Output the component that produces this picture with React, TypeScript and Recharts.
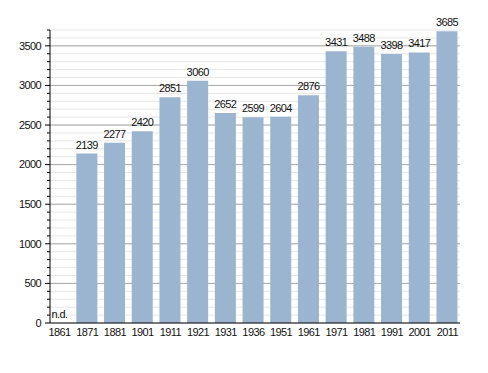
import React from "react";
import {
  BarChart,
  Bar,
  XAxis,
  YAxis,
  CartesianGrid,
  LabelList,
  ReferenceDot,
} from "recharts";

// census years and resident counts (1861 has no data)
const YEARS = ["1861", "1871", "1881", "1901", "1911", "1921", "1931", "1936", "1951", "1961", "1971", "1981", "1991", "2001", "2011"];
const POPULATION: (number | null)[] = [null, 2139, 2277, 2420, 2851, 3060, 2652, 2599, 2604, 2876, 3431, 3488, 3398, 3417, 3685];
const NO_DATA = "n.d.";

const Y_MAX = 3700;
const MINOR_TICKS = Array.from({ length: Y_MAX / 100 + 1 }, (_, i) => i * 100);
const MAJOR_LINES = [500, 1000, 1500, 2000, 2500, 3000, 3500];

const data = YEARS.map((year, i) => ({ idx: i, year, value: POPULATION[i] }));
const missing = data.filter((d) => d.value == null);

const FONT = "'Liberation Sans', Arial, sans-serif";
const TEXT = { fontSize: 11, fontFamily: FONT, fill: "#111", letterSpacing: -0.6 };

const YTick = (props: any) => {
  const { x, y, payload } = props;
  const v = payload.value;
  const major = v % 500 === 0;
  return (
    <g>
      <line x1={x - (major ? 5 : 3)} x2={x} y1={y} y2={y} stroke="#000" strokeWidth={1} />
      {major && v <= 3500 && (
        <text x={x - 9} y={y} dy="0.35em" textAnchor="end" {...TEXT}>
          {v}
        </text>
      )}
    </g>
  );
};

const ValueLabel = (props: any) => {
  const { x, y, width, value } = props;
  if (value == null) return null;
  return (
    <text x={x + width / 2} y={y - 5} textAnchor="middle" {...TEXT}>
      {value}
    </text>
  );
};

const NoteLabel = (props: any) => {
  const { viewBox } = props;
  return (
    <text x={viewBox.x + viewBox.width / 2} y={viewBox.y - 5} textAnchor="middle" {...TEXT}>
      {NO_DATA}
    </text>
  );
};

export default function App() {
  return (
    <div style={{ position: "absolute", left: 0, top: 0, background: "#fff" }}>
      <BarChart width={488} height={373} data={data} margin={{ top: 30, right: 28, bottom: 20, left: 0 }}>
        <CartesianGrid vertical={false} stroke="#e6e6e6" horizontalValues={MINOR_TICKS} />
        <CartesianGrid vertical={false} stroke="#a8a8a8" horizontalValues={MAJOR_LINES} />
        <XAxis
          dataKey="idx"
          type="number"
          domain={[-0.343, 14.458]}
          allowDataOverflow
          ticks={data.map((d) => d.idx)}
          tickFormatter={(i: number) => YEARS[i]}
          interval={0}
          tickLine={false}
          tickSize={0}
          tickMargin={5}
          height={30}
          stroke="#000"
          tick={TEXT}
        />
        <YAxis
          domain={[0, Y_MAX]}
          ticks={MINOR_TICKS}
          interval={0}
          width={50}
          tickLine={false}
          tickSize={0}
          tickMargin={0}
          stroke="#000"
          tick={<YTick />}
        />
        <Bar dataKey="value" fill="#9bb4cf" barSize={21} isAnimationActive={false}>
          <LabelList dataKey="value" content={<ValueLabel />} />
        </Bar>
        {missing.map((d) => (
          <ReferenceDot
            key={d.year}
            x={d.idx}
            y={0}
            r={0}
            fill="none"
            stroke="none"
            ifOverflow="visible"
            label={<NoteLabel />}
          />
        ))}
      </BarChart>
    </div>
  );
}
